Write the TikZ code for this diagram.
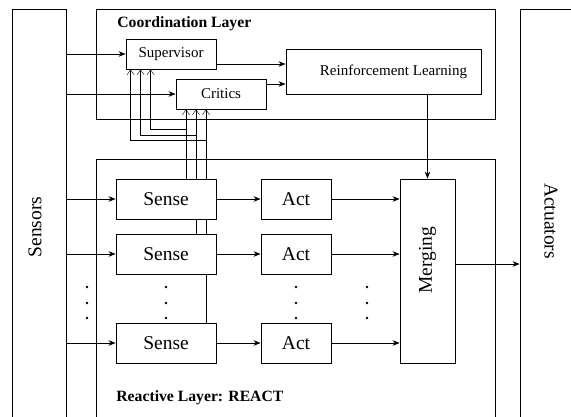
\documentclass[tikz,border=0pt]{standalone}
\usepackage{fontspec}
\setmainfont{Liberation Serif}
\usetikzlibrary{arrows.meta,backgrounds}
\begin{document}
\begin{tikzpicture}[x=1pt,y=-1pt,line width=0.8pt,
  bigbox/.style={draw,inner sep=0pt},
  blk/.style={draw,fill=white,inner sep=0pt,font=\fontsize{19.5}{22}\selectfont},
  sblk/.style={draw,fill=white,inner sep=0pt,font=\fontsize{15}{17}\selectfont},
  biglbl/.style={inner sep=0pt,font=\fontsize{19.5}{22}\selectfont},
  ttl/.style={inner sep=0pt,anchor=west,font=\fontsize{15.7}{18}\selectfont\bfseries},
  arr/.style={-{Stealth[length=7pt,width=5.5pt]}},
  fb/.style={-{Straight Barb[length=5pt,width=7pt]}},
  dotc/.style={fill=black}]
\useasboundingbox (0,0) rectangle (571,416);
\clip (0,0) rectangle (571,416);

% outer boxes
\node[bigbox,minimum width=54pt,minimum height=440pt] (sensors) at (39,229) {};
\node[biglbl,rotate=90] (sensorslbl) at (35,227) {Sensors};
\node[bigbox,minimum width=60pt,minimum height=440pt] (actuators) at (550,229) {};
\node[biglbl,rotate=-90] (actuatorslbl) at (551,221) {Actuators};
\node[bigbox,minimum width=399pt,minimum height=110pt] (coord) at (295.5,64) {};
\node[ttl] (coordlbl) at (117,24) {Coordination Layer};
\node[bigbox,minimum width=399pt,minimum height=290pt] (react) at (295.5,304) {};
\node[ttl] (reactlbl) at (116,398) {Reactive Layer: REACT};

% coordination layer blocks
\node[sblk,minimum width=90pt,minimum height=30pt] (sup) at (171,54) {Supervisor};
\node[sblk,minimum width=90pt,minimum height=30pt] (crit) at (221,94) {Critics};
\node[sblk,minimum width=195pt,minimum height=45pt,
  label={[font=\fontsize{15}{17}\selectfont,xshift=10pt]center:Reinforcement Learning}] (rl) at (383.5,71.5) {};

% reactive layer blocks
\foreach \i/\y in {1/199,2/254,3/343}{
  \node[blk,minimum width=100pt,minimum height=40pt] (sense\i) at (166,\y) {Sense};
  \node[blk,minimum width=70pt,minimum height=40pt] (act\i) at (296,\y) {Act};
}
\node[blk,minimum width=55pt,minimum height=184pt] (merge) at (427.5,271) {};
\node[biglbl,rotate=90] (mergelbl) at (427.5,260) {Merging};

% dots
\foreach \x in {87,166,296,367}{
  \foreach \y in {287,303,318}{
    \fill (\x,\y) circle (1.4pt);
  }
}

% connectors
\draw[arr] (sensors.east |- sup.west) -- (sup.west);
\draw[arr] (sensors.east |- crit.west) -- (crit.west);
\draw[arr] ([yshift=-10pt]sup.east) -- ([yshift=-10pt]sup.east -| rl.west);
\draw[arr] ([yshift=10pt]crit.east) -- ([yshift=10pt]crit.east -| rl.west);
\draw[arr] (rl.south -| merge.north) -- (merge.north);
\draw[arr] ([yshift=7pt]merge.east) -- ([yshift=7pt]merge.east -| actuators.west);
\foreach \i in {1,2,3}{
  \draw[arr] (sensors.east |- sense\i.west) -- (sense\i.west);
  \draw[arr] (sense\i.east) -- (act\i.west);
  \draw[arr] (act\i.east) -- (act\i.east -| merge.west);
}

% feedback lines (behind the blocks)
\begin{scope}[on background layer]
  \coordinate (f1) at ([xshift=20pt]sense1.north);
  \coordinate (f2) at ([xshift=30pt]sense2.north);
  \coordinate (f3) at ([xshift=40pt]sense3.north);
  \coordinate (b1) at (186,129);
  \coordinate (b2) at (196,135);
  \coordinate (b3) at (206,140);
  \draw[fb] (f1) -- (f1 |- crit.south);
  \draw[fb] (f2) -- (f2 |- crit.south);
  \draw[fb] (f3) -- (f3 |- crit.south);
  \draw[fb] (b1) -| ([xshift=25pt]sup.south west);
  \draw[fb] (b2) -| ([xshift=15pt]sup.south west);
  \draw[fb] (b3) -| ([xshift=5pt]sup.south west);
\end{scope}
\end{tikzpicture}
\end{document}
